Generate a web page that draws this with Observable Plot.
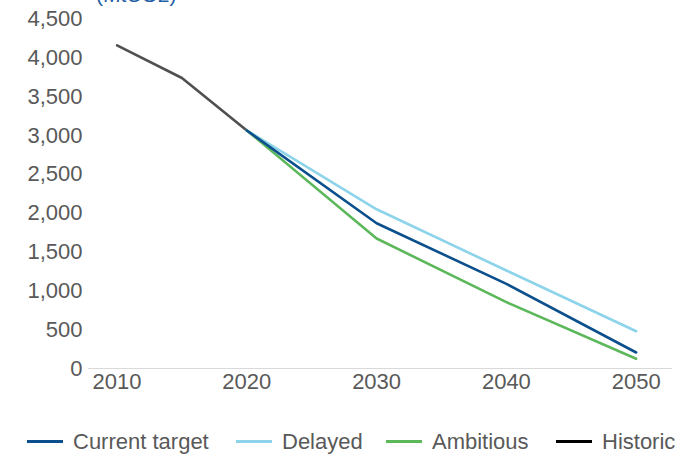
<!DOCTYPE html>
<html>
<head>
<meta charset="utf-8">
<script src="https://cdn.jsdelivr.net/npm/d3@7"></script>
<script src="https://cdn.jsdelivr.net/npm/@observablehq/plot@0.6"></script>
<style>
  body { margin: 0; background: #fff; font-family: "Liberation Sans", Arial, sans-serif; }
  #wrap { position: relative; width: 681px; height: 456px; overflow: hidden; }
  #title { position: absolute; left: 96px; top: -17px; font-size: 21px; color: #1f5fa6; white-space: nowrap; }
  #legend { position: absolute; left: 0; top: 429px; height: 26px; width: 681px; font-size: 22px; color: #595959; }
  .item { position: absolute; top: 0; height: 26px; line-height: 26px; white-space: nowrap; }
  .sw { position: absolute; top: 11px; width: 36px; height: 3px; }
</style>
</head>
<body>
<div id="wrap">
  <div id="chart"></div>
  <div id="title">(MtCO2)</div>
  <div id="legend"></div>
</div>
<script>
const years = [2010, 2015, 2020, 2030, 2040, 2050];
const historicYears = [2010, 2015, 2020];
const historicValues = [4160, 3740, 3065];
const scenarioYears = [2020, 2030, 2040, 2050];
const currentTarget = [3065, 1870, 1090, 206];
const delayed = [3065, 2050, 1262, 480];
const ambitious = [3065, 1674, 854, 125];
const seriesNames = ["Current target", "Delayed", "Ambitious", "Historic"];
const seriesColors = ["#0b4f8c", "#8dd3ea", "#5cb85a", "#505050"];
const legendColors = ["#0b4f8c", "#8dd3ea", "#5cb85a", "#000000"];
const yTicks = [0, 500, 1000, 1500, 2000, 2500, 3000, 3500, 4000, 4500];
const xTicks = [2010, 2020, 2030, 2040, 2050];

const rows = [];
historicYears.forEach((y, i) => rows.push({series: "Historic", year: y, value: historicValues[i]}));
scenarioYears.forEach((y, i) => rows.push({series: "Delayed", year: y, value: delayed[i]}));
scenarioYears.forEach((y, i) => rows.push({series: "Ambitious", year: y, value: ambitious[i]}));
scenarioYears.forEach((y, i) => rows.push({series: "Current target", year: y, value: currentTarget[i]}));

const fmt = d3.format(",");
const plot = Plot.plot({
  width: 681,
  height: 400,
  marginLeft: 88,
  marginRight: 9,
  marginTop: 18.5,
  marginBottom: 32,
  style: { fontFamily: "Liberation Sans, Arial, sans-serif", fontSize: "22px", color: "#595959", background: "#fff" },
  x: { domain: [2007.8, 2052.8], ticks: xTicks, tickFormat: d => String(d), tickSize: 0, tickPadding: 5, label: null },
  y: { domain: [0, 4500], ticks: yTicks, tickFormat: fmt, tickSize: 0, tickPadding: 6, label: null },
  color: { domain: seriesNames, range: seriesColors },
  marks: [
    Plot.ruleY([0], { stroke: "#d9d9d9", strokeWidth: 1.2 }),
    Plot.lineY(rows, { x: "year", y: "value", z: "series", stroke: "series", strokeWidth: 2.6, strokeLinejoin: "round" })
  ]
});
document.getElementById("chart").appendChild(plot);

const legendX = [27, 236, 386, 556];
const legend = document.getElementById("legend");
seriesNames.forEach((name, i) => {
  const it = document.createElement("div");
  it.className = "item";
  it.style.left = legendX[i] + "px";
  const sw = document.createElement("div");
  sw.className = "sw";
  sw.style.left = "0px";
  sw.style.background = legendColors[i];
  const tx = document.createElement("span");
  tx.textContent = name;
  tx.style.marginLeft = "46px";
  it.appendChild(sw);
  it.appendChild(tx);
  legend.appendChild(it);
});
</script>
</body>
</html>
